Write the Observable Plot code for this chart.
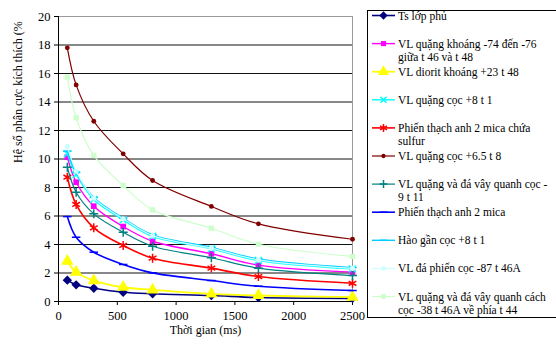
<!DOCTYPE html>
<html>
<head>
<meta charset="utf-8">
<script src="https://cdn.jsdelivr.net/npm/d3@7"></script>
<script src="https://cdn.jsdelivr.net/npm/@observablehq/plot@0.6"></script>
<style>
  html, body { margin: 0; padding: 0; background: #fff; }
  svg, svg text, svg tspan { font-family: "Liberation Serif", "Times New Roman", "DejaVu Serif", serif !important; }
</style>
</head>
<body>
<div id="chart"></div>
<script>
// ---- data ----
const times = [75, 150, 300, 550, 800, 1300, 1700, 2500];

const names = [
  "Ts lớp phủ",
  "VL quặng khoáng -74 đến -76\ngiữa t 46 và t 48",
  "VL diorit khoáng +23 t 48",
  "VL quặng cọc +8 t 1",
  "Phiến thạch anh 2 mica chứa\nsulfur",
  "VL quặng cọc +6.5 t 8",
  "VL quặng và đá vây quanh cọc -\n9 t 11",
  "Phiến thạch anh 2 mica",
  "Hào gần cọc +8 t 1",
  "VL đá phiến cọc -87 t 46A",
  "VL quặng và đá vây quanh cách\ncọc -38 t 46A về phía t 44"
];

const tsLopPhu      = [1.50, 1.17, 0.93, 0.65, 0.54, 0.42, 0.28, 0.22];
const quangKhoang   = [10.13, 8.37, 6.69, 5.26, 4.23, 3.35, 2.55, 2.06];
const dioritKhoang  = [2.83, 2.06, 1.47, 1.00, 0.82, 0.54, 0.42, 0.30];
const quangCoc8     = [10.36, 8.91, 7.16, 5.73, 4.58, 3.70, 2.88, 2.29];
const phienSulfur   = [8.72, 6.81, 5.17, 3.93, 3.04, 2.34, 1.75, 1.28];
const quangCoc65    = [17.80, 15.20, 12.65, 10.36, 8.49, 6.67, 5.45, 4.37];
const vayQuanhCoc   = [9.42, 7.67, 6.15, 4.86, 3.88, 3.07, 2.34, 1.82];
const phien2Mica    = [5.96, 4.51, 3.46, 2.60, 2.01, 1.47, 1.07, 0.77];
const haoGanCoc     = [10.55, 9.05, 7.30, 5.85, 4.68, 3.80, 2.98, 2.38];
const daPhienCoc    = [10.88, 9.15, 7.25, 5.80, 4.62, 3.74, 2.92, 2.33];
const vayQuanhCach  = [15.74, 12.89, 10.25, 8.14, 6.43, 5.14, 4.02, 3.16];

const seriesValues = [tsLopPhu, quangKhoang, dioritKhoang, quangCoc8, phienSulfur,
  quangCoc65, vayQuanhCoc, phien2Mica, haoGanCoc, daPhienCoc, vayQuanhCach];

const yTicks = [0, 2, 4, 6, 8, 10, 12, 14, 16, 18, 20];
const xTicks = [0, 500, 1000, 1500, 2000, 2500];
const xLabel = "Thời gian (ms)";
const yLabel = "Hệ số phân cực kích thích (%";

// ---- styles ----
const FONT = "'Liberation Serif', 'Times New Roman', 'DejaVu Serif', serif";
const dash = { draw(ctx, size) { const w = Math.sqrt(size) * 0.75; ctx.moveTo(-w, 0); ctx.lineTo(w, 0); } };
const colors  = ["#000080", "#FF00FF", "#FFFF00", "#00FFFF", "#FF0000", "#800000", "#008080", "#0000FF", "#00CCFF", "#CCFFFF", "#CCFFCC"];
const symbols = [d3.symbolDiamond2, d3.symbolSquare, d3.symbolTriangle, d3.symbolTimes, d3.symbolAsterisk, d3.symbolCircle, d3.symbolPlus, dash, dash, d3.symbolCircle, d3.symbolSquare];
const filled  = [true, true, true, false, false, true, false, false, false, true, true];
const radii   = [4.2, 3.2, 4.6, 3.2, 4.2, 2.4, 3.0, 3.2, 3.2, 2.6, 3.0];
const widths  = [1.6, 1.4, 1.8, 1.4, 1.6, 1.2, 1.2, 1.6, 1.4, 1.2, 1.2];

const rows = seriesValues.map((vals, i) => vals.map((v, j) => ({ s: i, t: times[j], v })));

const marks = [
  Plot.ruleY(yTicks.filter(d => d > 0 && d < 20), { stroke: "#111", strokeWidth: 1 }),
  Plot.ruleY([20], { stroke: "#999", strokeWidth: 1 }),
  Plot.ruleX([2500], { stroke: "#999", strokeWidth: 1 }),
  Plot.ruleX([0], { stroke: "#000", strokeWidth: 1 }),
  Plot.ruleY([0], { stroke: "#000", strokeWidth: 1 }),
  Plot.axisY({ ticks: yTicks, tickFormat: d => String(d), tickSize: 4, tickPadding: 4, fontSize: 12.5, label: null, stroke: "#000", fontFamily: FONT }),
  Plot.axisX({ ticks: xTicks, tickFormat: d => String(d), tickSize: 4, tickPadding: 6, fontSize: 12.5, label: null, stroke: "#000", fontFamily: FONT }),
  Plot.text([xLabel], { frameAnchor: "bottom", dy: 32, fontSize: 12, fill: "#000", fontFamily: FONT }),
  Plot.text([yLabel], { frameAnchor: "left", dx: -40, dy: 4, rotate: -90, fontSize: 12, fill: "#000", fontFamily: FONT })
];

rows.forEach((data, i) => {
  marks.push(Plot.line(data, { x: "t", y: "v", stroke: colors[i], strokeWidth: widths[i], curve: "catmull-rom" }));
  marks.push(Plot.dot(data, {
    x: "t", y: "v", symbol: symbols[i], r: radii[i],
    fill: filled[i] ? colors[i] : "none",
    stroke: filled[i] ? "none" : colors[i],
    strokeWidth: filled[i] ? 0 : 1.5
  }));
});

const svg = Plot.plot({
  width: 556, height: 345,
  marginLeft: 58, marginRight: 204, marginTop: 16, marginBottom: 44,
  x: { domain: [0, 2500] },
  y: { domain: [0, 20] },
  style: { fontFamily: FONT, fontSize: "12px", color: "#000", background: "#fff" },
  marks
});
svg.setAttribute("font-family", FONT);

// ---- legend ----
const g = d3.select(svg).append("g").attr("text-anchor", "start").attr("font-family", FONT);
g.append("rect").attr("x", 367.5).attr("y", 10.5).attr("width", 200).attr("height", 307)
  .attr("fill", "#fff").attr("stroke", "#000").attr("stroke-width", 1);
names.forEach((name, i) => {
  const y = 15.5 + i * 28.1;
  const it = g.append("g");
  it.append("line").attr("x1", 372).attr("x2", 395).attr("y1", y).attr("y2", y)
    .attr("stroke", colors[i]).attr("stroke-width", widths[i]);
  const sym = d3.symbol(symbols[i], Math.PI * radii[i] * radii[i] * 0.8)();
  it.append("path").attr("d", sym).attr("transform", `translate(383.5,${y})`)
    .attr("fill", filled[i] ? colors[i] : "none")
    .attr("stroke", filled[i] ? "none" : colors[i]).attr("stroke-width", 1.5);
  const txt = it.append("text").attr("x", 398).attr("y", y).attr("font-size", 11.5)
    .attr("fill", "#000").attr("text-anchor", "start");
  name.split("\n").forEach((ln, k) => {
    txt.append("tspan").attr("x", 398).attr("dy", k === 0 ? "0.35em" : "13").text(ln);
  });
});

document.getElementById("chart").appendChild(svg);
</script>
</body>
</html>
